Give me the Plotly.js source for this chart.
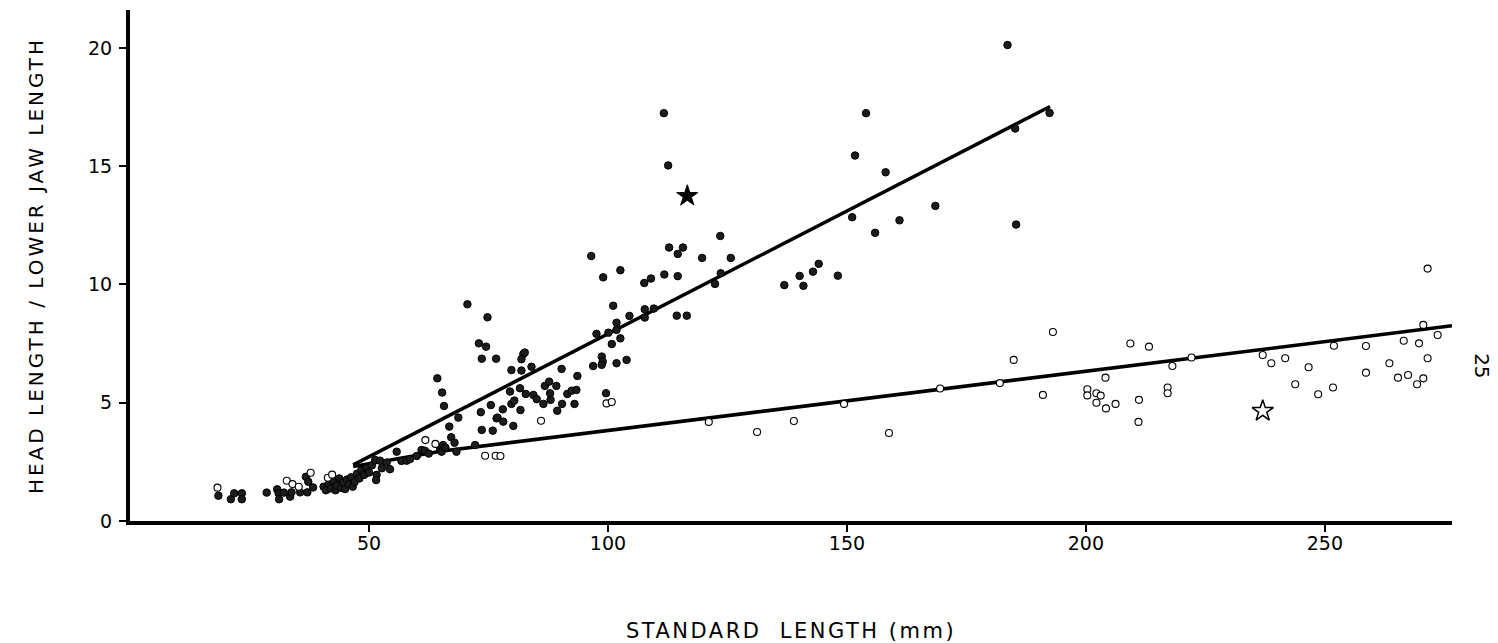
<!DOCTYPE html>
<html>
<head>
<meta charset="utf-8">
<script src="https://cdn.plot.ly/plotly-3.0.1.min.js"></script>
<style>
html,body{margin:0;padding:0;background:#fff;}
#chart{width:1498px;height:643px;}
#chart .xtitle{letter-spacing:2.5px;}
#chart .ytitle{letter-spacing:3px;}
</style>
</head>
<body>
<div id="chart"></div>
<script>
// Filled circles (one group)
const filledX = [18.5,21.1,21.8,23.4,23.4,28.6,30.8,31.1,31.2,32.2,33.5,33.8,35.6,37.1,38.3,36.8,37.3,
40.5,41.0,41.6,42.0,42.5,43.0,43.3,43.8,44.2,44.6,45.0,45.4,45.8,46.3,46.6,47.0,47.5,48.0,48.4,49.0,49.5,50.0,50.6,
51.3,52.3,53.7,51.6,51.5,52.7,54.4,55.8,56.8,57.9,58.6,60.0,61.0,61.7,62.5,64.9,65.5,65.2,66.0,68.3,72.2,
64.3,65.3,65.7,68.7,66.8,67.2,67.9,70.6,74.8,73.0,74.5,73.6,76.6,73.4,75.5,76.7,73.6,75.9,
82.3,82.6,81.9,79.8,81.9,84.0,90.3,93.6,79.5,81.6,82.8,84.4,85.1,86.5,86.8,87.7,87.9,88.0,89.2,91.5,92.4,93.4,90.4,93.0,89.4,
78.0,79.8,80.4,81.7,76.9,78.1,80.2,96.9,98.7,98.9,98.7,101.8,103.9,99.6,97.6,100.1,101.8,100.8,102.6,101.8,101.1,104.5,
107.7,109.6,107.7,114.4,116.5,96.5,99.0,102.6,107.6,109.0,111.8,112.8,115.7,114.6,114.6,119.7,123.5,125.7,123.6,122.4,
111.7,112.6,136.9,140.1,140.9,142.9,144.1,148.1,154.0,151.7,158.1,151.1,155.9,161.0,168.5,185.2,192.4,185.4,183.6];
const filledY = [1.07,0.92,1.17,1.17,0.92,1.20,1.34,1.17,0.92,1.20,1.03,1.21,1.21,1.21,1.42,1.87,1.66,
1.45,1.30,1.55,1.38,1.70,1.30,1.50,1.80,1.40,1.62,1.35,1.75,1.55,1.85,1.45,1.65,2.00,1.80,2.15,1.95,2.25,2.05,2.35,
2.58,2.55,2.47,1.95,1.73,2.23,2.19,2.93,2.54,2.55,2.62,2.75,3.00,2.97,2.85,3.03,3.21,2.93,3.10,2.93,3.21,
6.03,5.43,4.86,4.37,3.99,3.54,3.31,9.16,8.61,7.51,7.37,6.86,6.86,4.60,4.90,4.34,3.85,3.82,
7.06,7.12,6.84,6.38,6.36,6.52,6.43,6.13,5.47,5.61,5.37,5.33,5.15,4.95,5.71,5.89,5.40,5.12,5.71,5.37,5.51,5.54,4.95,4.95,4.66,
4.72,4.95,5.09,4.69,4.37,4.20,4.02,6.55,6.95,6.74,6.60,6.67,6.81,5.40,7.91,7.96,8.08,7.48,7.72,8.38,9.10,8.67,
8.95,8.98,8.60,8.68,8.68,11.2,10.3,10.6,10.06,10.25,10.42,11.56,11.56,11.29,10.35,11.12,12.05,11.12,10.47,10.02,
17.24,15.03,9.97,10.36,9.94,10.54,10.87,10.37,17.24,15.45,14.74,12.84,12.18,12.71,13.32,16.59,17.25,12.53,20.12];

// Open circles (second group)
const openX = [18.3,32.8,34.0,35.3,37.8,41.4,42.3,61.8,63.9,74.3,76.5,77.5,86.0,99.7,100.8,121.1,131.2,138.9,149.4,158.8,
169.5,182.0,184.9,193.1,191.0,200.3,200.3,202.2,203.1,202.2,204.1,204.2,206.2,209.3,211.1,211.0,213.2,217.1,217.1,218.1,222.1,
237.0,238.8,241.7,243.8,246.6,248.6,251.9,251.7,258.6,258.6,263.5,265.3,267.4,269.3,270.6,266.5,269.7,271.5,270.6,273.6,271.5];
const openY = [1.41,1.70,1.56,1.45,2.04,1.83,1.96,3.42,3.26,2.76,2.76,2.75,4.24,4.97,5.03,4.19,3.76,4.23,4.95,3.72,
5.60,5.83,6.81,7.99,5.33,5.57,5.31,5.40,5.30,5.00,6.06,4.76,4.95,7.50,5.12,4.19,7.37,5.64,5.40,6.55,6.91,
7.02,6.67,6.88,5.78,6.50,5.36,7.41,5.64,7.40,6.27,6.67,6.06,6.17,5.78,6.03,7.62,7.51,6.88,8.29,7.86,10.67];

// Star specimens
const starFilledX = [116.6], starFilledY = [13.74];
const starOpenX = [237.0], starOpenY = [4.65];

// Fitted lines
const lineFilledX = [46.7, 192.5], lineFilledY = [2.37, 17.52];
const lineOpenX = [46.7, 65.0, 276.6], lineOpenY = [2.30, 2.95, 8.25];

const xTicks = [50, 100, 150, 200, 250];
const yTicks = [0, 5, 10, 15, 20];

const FONT = 'DejaVu Sans, Verdana, sans-serif';

const traces = [
  {x: lineFilledX, y: lineFilledY, mode: 'lines', line: {color: '#000', width: 3.5}, hoverinfo: 'skip'},
  {x: lineOpenX, y: lineOpenY, mode: 'lines', line: {color: '#000', width: 3.5}, hoverinfo: 'skip'},
  {x: filledX, y: filledY, mode: 'markers', marker: {symbol: 'circle', size: 7.5, color: '#1c1c1c', line: {color: '#000', width: 1}}},
  {x: openX, y: openY, mode: 'markers', marker: {symbol: 'circle', size: 7, color: '#fff', line: {color: '#000', width: 1.1}}},
  {x: starFilledX, y: starFilledY, mode: 'markers', marker: {symbol: 'star', size: 16, color: '#000', line: {color: '#000', width: 1}}},
  {x: starOpenX, y: starOpenY, mode: 'markers', marker: {symbol: 'star', size: 16, color: '#fff', line: {color: '#000', width: 1.5}}}
];

const layout = {
  width: 1498, height: 643,
  margin: {l: 130, r: 46, t: 10, b: 122},
  paper_bgcolor: '#fff', plot_bgcolor: '#fff',
  showlegend: false,
  font: {family: FONT, color: '#000', size: 19},
  xaxis: {
    range: [0, 276.6], tickvals: xTicks, ticktext: xTicks.map(String),
    showgrid: false, zeroline: false, showline: true, linewidth: 4, linecolor: '#000',
    ticks: 'outside', ticklen: 7, tickwidth: 2, tickcolor: '#000', ticklabelstandoff: -5,
    tickfont: {family: FONT, size: 19, color: '#000'},
    title: {text: 'STANDARD  LENGTH (mm)', font: {family: FONT, size: 21, color: '#000'}, standoff: 73}
  },
  yaxis: {
    range: [0, 21.6], tickvals: yTicks, ticktext: yTicks.map(String),
    showgrid: false, zeroline: false, showline: true, linewidth: 4, linecolor: '#000',
    ticks: 'outside', ticklen: 7, tickwidth: 2, tickcolor: '#000', ticklabelstandoff: 3,
    tickfont: {family: FONT, size: 19, color: '#000'},
    title: {text: 'HEAD LENGTH / LOWER JAW LENGTH', font: {family: FONT, size: 20, color: '#000'}, standoff: 40}
  },
  annotations: [
    {text: '25', xref: 'paper', yref: 'paper', x: 1.0227, y: 0.305, xanchor: 'center', yanchor: 'middle',
     showarrow: false, textangle: 90, font: {family: FONT, size: 20, color: '#000'}}
  ]
};

Plotly.newPlot('chart', traces, layout, {displayModeBar: false, staticPlot: true});
</script>
</body>
</html>
